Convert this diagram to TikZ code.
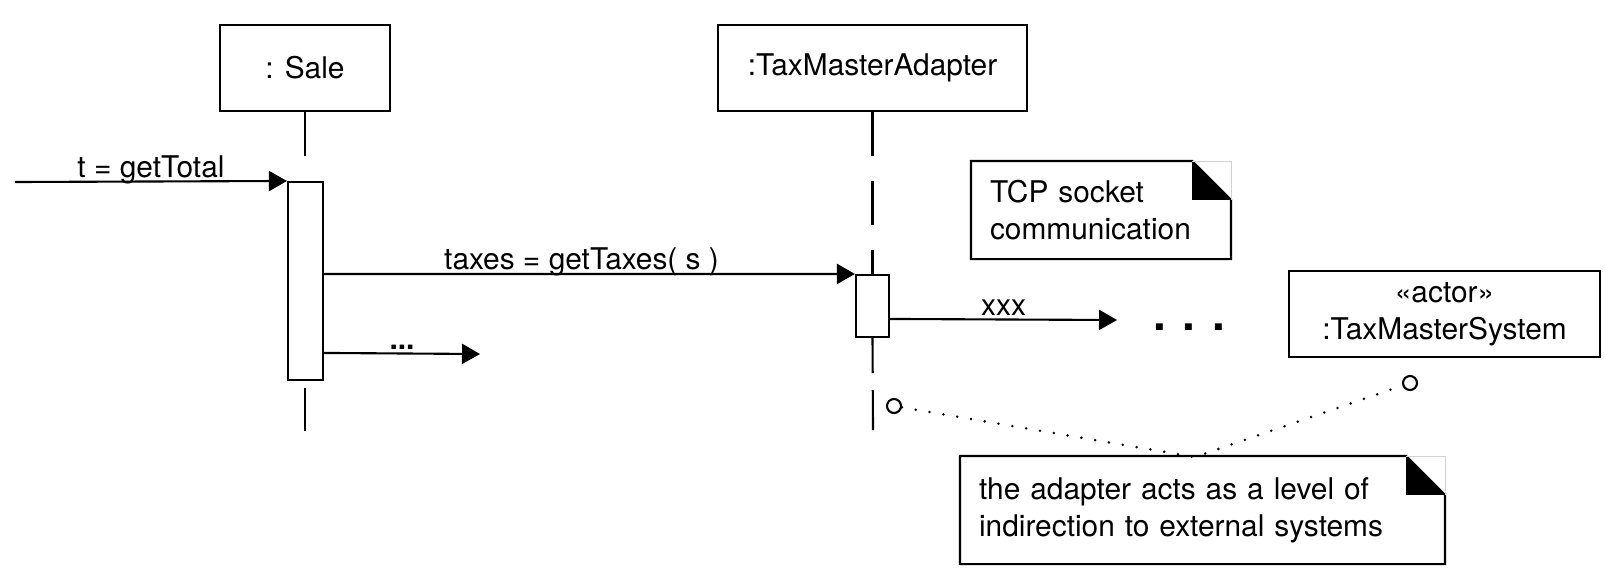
\documentclass[tikz,border=0pt]{standalone}
\usepackage{fontspec}
\setmainfont{TeX Gyre Heros}
\usetikzlibrary{arrows.meta, backgrounds}
\tikzstyle{head} = [rectangle, minimum height=1.72cm, text centered, draw=black, fill=white]
\tikzstyle{activation} = [rectangle, minimum width=0.7cm, inner sep=0pt, draw=black, fill=white]
\tikzstyle{note} = [rectangle, inner xsep=0.36cm, inner ysep=0pt, align=left]
\tikzstyle{lifeline} = [line width=1.2pt, dash pattern=on 0.87cm off 0.51cm]
\tikzstyle{msg} = [-{Triangle[length=0.36cm,width=0.4cm]}]
\tikzstyle{msglabel} = [anchor=base, yshift=0.08cm]
\tikzstyle{linkdot} = [circle, draw=black, fill=white, minimum size=0.28cm, inner sep=0pt]
\tikzstyle{anchorline} = [line cap=round, dash pattern=on 0pt off 0.28cm, line width=1.6pt]
\newcommand{\dogear}[1]{%
  \draw (#1.south west) -- (#1.north west) -- ([xshift=-0.78cm]#1.north east)
    -- ([yshift=-0.78cm]#1.north east) -- (#1.south east) -- cycle;
  \fill ([xshift=-0.78cm]#1.north east) -- ([xshift=-0.78cm,yshift=-0.78cm]#1.north east)
    -- ([yshift=-0.78cm]#1.north east) -- cycle;
  \draw[gray!35, line width=0.4pt] ([xshift=-0.78cm]#1.north east) -- (#1.north east)
    -- ([yshift=-0.78cm]#1.north east);}

\begin{document}
\begin{tikzpicture}[x=0.02cm, y=-0.02cm, line width=1.2pt, font=\fontsize{17}{21}\selectfont]
\useasboundingbox (0,0) rectangle (1604,576);

\node (sale) [head, minimum width=3.4cm] at (305,68) {: Sale};
\node (adapter) [head, minimum width=6.18cm] at (872.5,68) {:TaxMasterAdapter};
\node (system) [head, minimum width=6.22cm, align=center] at (1444.5,314) {«actor»\\:TaxMasterSystem};

\node (saleact) [activation, minimum height=3.96cm] at (305.5,281) {};
\node (adpact) [activation, minimum width=0.66cm, minimum height=1.24cm] at (872.5,306) {};

\coordinate (caller) at (15,182);
\coordinate (saleend) at (305,431);
\coordinate (adpend) at (873,430);
\coordinate (salemore) at (480,354);
\coordinate (xxxend) at (1117,320);

\begin{scope}[on background layer]
\draw [lifeline] (sale.south) -- (saleend);
\draw [lifeline] (adapter.south) -- (adpact.north);
\draw [lifeline, dash pattern=on 0.7cm off 0.34cm on 0.82cm off 0.3cm] (adpact.south) -- (adpend);
\end{scope}

\draw [msg] (caller) -- node[msglabel]{t = getTotal} (saleact.north west);
\draw [msg] ([yshift=-1.86cm]saleact.north east) -- node[msglabel, pos=0.485]{taxes = getTaxes( s )} (adpact.north west);
\draw [msg] ([yshift=-3.44cm]saleact.north east) -- node[msglabel]{\textbf{...}} (salemore);
\draw [msg] ([yshift=-0.9cm]adpact.north east) -- node[msglabel]{xxx} (xxxend);

\node (more) at (1189,327) {\fontsize{26}{26}\selectfont\bfseries . . .};

\node (tcpnote) [note, minimum height=1.92cm, text width=4.44cm] at (1101,210) {TCP socket\\communication};
\dogear{tcpnote}
\node (indnote) [note, minimum height=2.12cm, text width=8.94cm] at (1202.5,510) {the adapter acts as a level of\\indirection to external systems};
\dogear{indnote}

\node (adpdot) [linkdot] at (894,406) {};
\node (sysdot) [linkdot] at (1410,383) {};
\coordinate (notetop) at (1195,457);
\draw [anchorline] (adpdot) -- (notetop) -- (sysdot);

\end{tikzpicture}
\end{document}
